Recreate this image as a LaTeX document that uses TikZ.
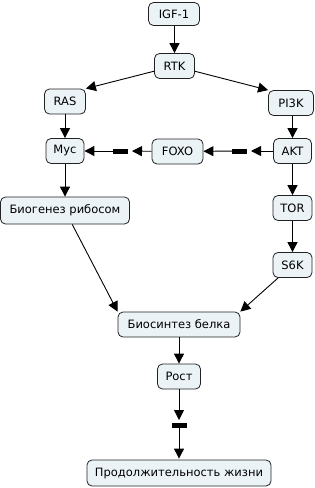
\documentclass[tikz,border=0pt]{standalone}
\usepackage{fontspec}
\setmainfont{DejaVu Sans}
\usetikzlibrary{arrows.meta}
\definecolor{boxfill}{HTML}{EBF3F7}
\definecolor{boxline}{HTML}{222222}
\tikzset{
  box/.style={draw=boxline, fill=boxfill, rounded corners=5pt, line width=0.8pt,
    minimum height=25pt, inner xsep=3pt, inner ysep=2pt,
    font=\fontsize{11.5}{13}\selectfont},
  barnode/.style={fill=black, minimum width=15pt, minimum height=5pt, inner sep=0pt, outer sep=0pt},
  conn/.style={line width=0.9pt, -{Triangle[length=10pt,width=10pt]}},
}
\begin{document}
\begin{tikzpicture}[x=1pt,y=-1pt]
\useasboundingbox (0,0) rectangle (315,488);
\node[box, minimum width=51pt, minimum height=23pt] (igf) at (174,14) {IGF-1};
\node[box, minimum width=40pt] (rtk) at (174.5,66) {RTK};
\node[box, minimum width=41pt] (ras) at (65,101.5) {RAS};
\node[box, minimum width=45pt] (pi3k) at (291,103) {PI3K};
\node[box, minimum width=38pt] (myc) at (65,151) {Myc};
\node[box, minimum width=51pt] (foxo) at (177.5,151.5) {FOXO};
\node[box, minimum width=38pt] (akt) at (292.5,151) {AKT};
\node[box, minimum width=129pt, minimum height=27pt] (bio) at (65,210.5) {Биогенез рибосом};
\node[box, minimum width=39pt] (tor) at (292.5,208) {TOR};
\node[box, minimum width=39pt] (s6k) at (292.5,265) {S6K};
\node[box, minimum width=122pt] (syn) at (179,324.5) {Биосинтез белка};
\node[box, minimum width=43pt] (rost) at (179,376.5) {Рост};
\node[box, minimum width=184pt, minimum height=26pt] (life) at (179,473) {Продолжительность жизни};
\node[barnode] (bar1) at (239.5,151) {};
\node[barnode] (bar2) at (120.5,151) {};
\node[barnode] (bar3) at (179,425.5) {};
\draw[conn] (igf.south -| rtk) -- (rtk);
\draw[conn] (rtk) -- (ras.north east);
\draw[conn] (rtk) -- (pi3k.north west);
\draw[conn] (ras) -- (myc);
\draw[conn] (pi3k.south -| akt) -- (akt);
\draw[conn] (akt) -- (tor);
\draw[conn] (tor) -- (s6k);
\draw[conn] (myc) -- (bio);
\draw[conn] (bio) -- (syn.north west);
\draw[conn] (s6k) -- (syn.north east);
\draw[conn] (syn) -- (rost);
\draw[conn, shorten >=4pt] (akt) -- (bar1);
\draw[conn] (bar1) -- (foxo);
\draw[conn, shorten >=4pt] (foxo) -- (bar2);
\draw[conn] (bar2) -- (myc);
\draw[conn, shorten >=3pt] (rost) -- (bar3);
\draw[conn, shorten >=1pt] (bar3) -- (life);
\end{tikzpicture}
\end{document}
